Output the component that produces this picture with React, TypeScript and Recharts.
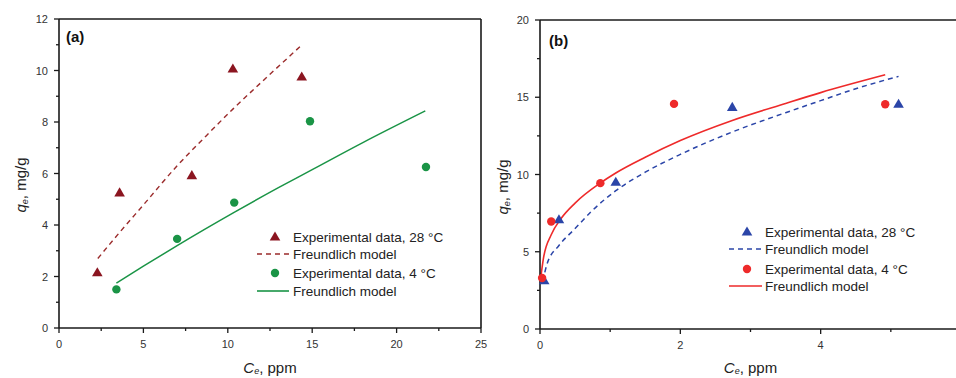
import React from 'react';
import { ComposedChart, Scatter, Line, XAxis, YAxis, ReferenceLine, Legend } from 'recharts';

// ---------- Panel (a) data ----------
const aExp28C = [2.27, 3.59, 7.87, 10.3, 14.38];
const aExp28Q = [2.15, 5.25, 5.92, 10.06, 9.75];
const aExp4C = [3.4, 7.0, 10.38, 14.87, 21.74];
const aExp4Q = [1.5, 3.46, 4.87, 8.03, 6.25];
const aFit28C = [2.3, 3.6, 5, 7, 8.7, 10.3, 12, 14.4];
const aFit28Q = [2.7, 3.72, 4.78, 6.3, 7.45, 8.5, 9.55, 11.0];
const aFit4C = [3.4, 5, 7, 10.4, 13, 15, 18, 21.7];
const aFit4Q = [1.74, 2.4, 3.2, 4.5, 5.45, 6.15, 7.2, 8.43];
const aXTicks = [0, 2.5, 5, 7.5, 10, 12.5, 15, 17.5, 20, 22.5, 25];
const aYTicks = [0, 1, 2, 3, 4, 5, 6, 7, 8, 9, 10, 11, 12];

// ---------- Panel (b) data ----------
const bExp28C = [0.06, 0.27, 1.08, 2.74, 5.11];
const bExp28Q = [3.13, 7.07, 9.5, 14.35, 14.55];
const bExp4C = [0.03, 0.16, 0.86, 1.91, 4.92];
const bExp4Q = [3.3, 6.96, 9.44, 14.57, 14.55];
const bFit28C = [0.04, 0.1, 0.27, 0.5, 0.73, 1.08, 1.5, 2, 2.74, 3.5, 4, 4.5, 5.11];
const bFit28Q = [3.1, 4.2, 5.4, 6.5, 7.6, 8.95, 10.15, 11.3, 12.75, 14.0, 14.78, 15.55, 16.35];
const bFit4C = [0.01, 0.05, 0.16, 0.3, 0.5, 0.86, 1.08, 1.5, 2, 2.74, 3.5, 4, 4.92];
const bFit4Q = [3.3, 4.6, 6.1, 7.15, 8.15, 9.45, 10.1, 11.12, 12.2, 13.5, 14.6, 15.3, 16.45];
const bXTicks = [0, 1, 2, 3, 4, 5];
const bYTicks = [0, 2.5, 5, 7.5, 10, 12.5, 15, 17.5, 20];

const legendLabels = [
  'Experimental data, 28 \u00B0C',
  'Freundlich model',
  'Experimental data, 4 \u00B0C',
  'Freundlich model',
];

const zip = (xs: number[], ys: number[]) => xs.map((x, i) => ({ x, y: ys[i] }));

const FONT = '"Liberation Sans", Arial, Helvetica, sans-serif';
const AXIS = '#1a1a1a';
const TICKTXT = '#333';

const C_DARKRED = '#8b1520';
const C_DASHRED = '#9b2b2b';
const C_GREEN = '#1a9446';
const C_BLUE = '#2b45a8';
const C_RED = '#ee2a2a';

const Triangle = (color: string) => (props: any) => {
  const { cx, cy } = props;
  if (cx == null || cy == null) return <g />;
  return (
    <polygon
      points={`${cx},${cy - 5.5} ${cx - 5.3},${cy + 3.6} ${cx + 5.3},${cy + 3.6}`}
      fill={color}
    />
  );
};

const Dot = (color: string) => (props: any) => {
  const { cx, cy } = props;
  if (cx == null || cy == null) return <g />;
  return <circle cx={cx} cy={cy} r={4.2} fill={color} />;
};

const makeXTick = (isMajor: (v: number) => boolean) => (props: any) => {
  const { x, y, payload } = props;
  const major = isMajor(payload.value);
  return (
    <g>
      <line x1={x} x2={x} y1={y} y2={y + (major ? 5 : 3)} stroke={AXIS} strokeWidth={1.3} />
      {major && (
        <text x={x} y={y + 16} textAnchor="middle" dominantBaseline="central" fontSize={11} fill={TICKTXT} fontFamily={FONT}>
          {payload.value}
        </text>
      )}
    </g>
  );
};

const makeYTick = (isMajor: (v: number) => boolean) => (props: any) => {
  const { x, y, payload } = props;
  const major = isMajor(payload.value);
  return (
    <g>
      <line x1={x} x2={x - (major ? 5 : 3)} y1={y} y2={y} stroke={AXIS} strokeWidth={1.3} />
      {major && (
        <text x={x - 11} y={y} textAnchor="end" dominantBaseline="central" fontSize={11} fill={TICKTXT} fontFamily={FONT}>
          {payload.value}
        </text>
      )}
    </g>
  );
};

const XLabel = (dy: number) => (props: any) => {
  const vb = props.viewBox || {};
  const cx = vb.x + vb.width / 2;
  const cy = vb.y + dy;
  return (
    <text x={cx} y={cy} textAnchor="middle" dominantBaseline="central" fontSize={15} fill="#222" fontFamily={FONT}>
      <tspan fontStyle="italic">C</tspan>
      <tspan fontSize={9} dy={4} fontStyle="italic">e</tspan>
      <tspan dy={-4}>, ppm</tspan>
    </text>
  );
};

const YLabel = (lx: number, ly: number) => () => {
  return (
    <text
      x={lx}
      y={ly}
      transform={`rotate(-90, ${lx}, ${ly})`}
      textAnchor="middle"
      dominantBaseline="central"
      fontSize={15}
      fill="#222"
      fontFamily={FONT}
    >
      <tspan fontStyle="italic">q</tspan>
      <tspan fontSize={9} dy={5} fontStyle="italic">e</tspan>
      <tspan dy={-5}>, mg/g</tspan>
    </text>
  );
};

const LegendBox = (
  colors: { tri: string; dash: string; dot: string; solid: string },
  rows: number[],
  markX: number,
  lineX1: number,
  lineX2: number,
  textX: number,
) => () => (
  <svg width={240} height={90} style={{ overflow: 'visible', display: 'block' }}>
    <polygon
      points={`${markX},${rows[0] - 5.5} ${markX - 5.3},${rows[0] + 3.6} ${markX + 5.3},${rows[0] + 3.6}`}
      fill={colors.tri}
    />
    <line x1={lineX1} x2={lineX2} y1={rows[1]} y2={rows[1]} stroke={colors.dash} strokeWidth={1.4} strokeDasharray="5 4" />
    <circle cx={markX} cy={rows[2]} r={4.2} fill={colors.dot} />
    <line x1={lineX1} x2={lineX2} y1={rows[3]} y2={rows[3]} stroke={colors.solid} strokeWidth={1.6} />
    {legendLabels.map((t, i) => (
      <text key={i} x={textX} y={rows[i]} dominantBaseline="central" fontSize={13.5} fill="#222" fontFamily={FONT}>
        {t}
      </text>
    ))}
  </svg>
);

const panelLabelStyle: React.CSSProperties = {
  position: 'absolute',
  fontFamily: FONT,
  fontWeight: 'bold',
  fontSize: 15,
  lineHeight: '18px',
  color: '#111',
};

export default function App() {
  return (
    <div style={{ position: 'absolute', left: 0, top: 0, width: 956, height: 378, overflow: 'hidden', background: '#fff' }}>
      {/* Panel (a) */}
      <div style={{ position: 'absolute', left: 0, top: 0 }}>
        <ComposedChart width={490} height={378} margin={{ top: 19, right: 9, left: 0, bottom: 0 }}>
          <XAxis
            dataKey="x"
            type="number"
            domain={[0, 25]}
            ticks={aXTicks}
            interval={0}
            height={50}
            tickSize={0}
            tickMargin={0}
            tickLine={false}
            axisLine={{ stroke: AXIS, strokeWidth: 1.6 }}
            tick={makeXTick((v) => v % 5 === 0)}
            label={{ content: XLabel(39) }}
          />
          <YAxis
            dataKey="y"
            type="number"
            domain={[0, 12]}
            ticks={aYTicks}
            interval={0}
            width={59}
            tickSize={0}
            tickMargin={0}
            tickLine={false}
            axisLine={{ stroke: AXIS, strokeWidth: 1.6 }}
            tick={makeYTick((v) => v % 2 === 0)}
            label={{ content: YLabel(20, 185) }}
          />
          <ReferenceLine y={12} stroke={AXIS} strokeWidth={1.6} ifOverflow="visible" />
          <ReferenceLine x={25} stroke={AXIS} strokeWidth={1.6} ifOverflow="visible" />
          <Line data={zip(aFit28C, aFit28Q)} dataKey="y" type="monotone" stroke={C_DASHRED} strokeWidth={1.4} strokeDasharray="5 4" dot={false} activeDot={false} isAnimationActive={false} />
          <Line data={zip(aFit4C, aFit4Q)} dataKey="y" type="monotone" stroke={C_GREEN} strokeWidth={1.5} dot={false} activeDot={false} isAnimationActive={false} />
          <Scatter data={zip(aExp28C, aExp28Q)} dataKey="y" fill={C_DARKRED} shape={Triangle(C_DARKRED)} isAnimationActive={false} />
          <Scatter data={zip(aExp4C, aExp4Q)} dataKey="y" fill={C_GREEN} shape={Dot(C_GREEN)} isAnimationActive={false} />
          <Legend
            layout="vertical"
            align="center"
            verticalAlign="middle"
            wrapperStyle={{ left: 250, top: 225, width: 240, height: 90 }}
            content={LegendBox(
              { tri: C_DARKRED, dash: C_DASHRED, dot: C_GREEN, solid: C_GREEN },
              [12, 29, 48, 66],
              25,
              7,
              39,
              43,
            )}
          />
        </ComposedChart>
        <div style={{ ...panelLabelStyle, left: 66, top: 28 }}>(a)</div>
      </div>

      {/* Panel (b) */}
      <div style={{ position: 'absolute', left: 476, top: 0 }}>
        <ComposedChart width={490} height={378} margin={{ top: 20, right: 5, left: 0, bottom: 0 }}>
          <XAxis
            dataKey="x"
            type="number"
            domain={[0, 6]}
            ticks={bXTicks}
            interval={0}
            height={49}
            tickSize={0}
            tickMargin={0}
            tickLine={false}
            axisLine={{ stroke: AXIS, strokeWidth: 1.6 }}
            tick={makeXTick((v) => v % 2 === 0)}
            label={{ content: XLabel(38) }}
          />
          <YAxis
            dataKey="y"
            type="number"
            domain={[0, 20]}
            ticks={bYTicks}
            interval={0}
            width={64}
            tickSize={0}
            tickMargin={0}
            tickLine={false}
            axisLine={{ stroke: AXIS, strokeWidth: 1.6 }}
            tick={makeYTick((v) => v % 5 === 0)}
            label={{ content: YLabel(26, 187) }}
          />
          <ReferenceLine y={20} stroke={AXIS} strokeWidth={1.6} ifOverflow="visible" />
          <Line data={zip(bFit28C, bFit28Q)} dataKey="y" type="monotone" stroke={C_BLUE} strokeWidth={1.5} strokeDasharray="5 4" dot={false} activeDot={false} isAnimationActive={false} />
          <Line data={zip(bFit4C, bFit4Q)} dataKey="y" type="monotone" stroke={C_RED} strokeWidth={1.6} dot={false} activeDot={false} isAnimationActive={false} />
          <Scatter data={zip(bExp28C, bExp28Q)} dataKey="y" fill={C_BLUE} shape={Triangle(C_BLUE)} isAnimationActive={false} />
          <Scatter data={zip(bExp4C, bExp4Q)} dataKey="y" fill={C_RED} shape={Dot(C_RED)} isAnimationActive={false} />
          <Legend
            layout="vertical"
            align="center"
            verticalAlign="middle"
            wrapperStyle={{ left: 250, top: 220, width: 240, height: 90 }}
            content={LegendBox(
              { tri: C_BLUE, dash: C_BLUE, dot: C_RED, solid: C_RED },
              [12, 29, 49, 66],
              21,
              3,
              36,
              39,
            )}
          />
        </ComposedChart>
        <div style={{ ...panelLabelStyle, left: 73, top: 32 }}>(b)</div>
      </div>
    </div>
  );
}
